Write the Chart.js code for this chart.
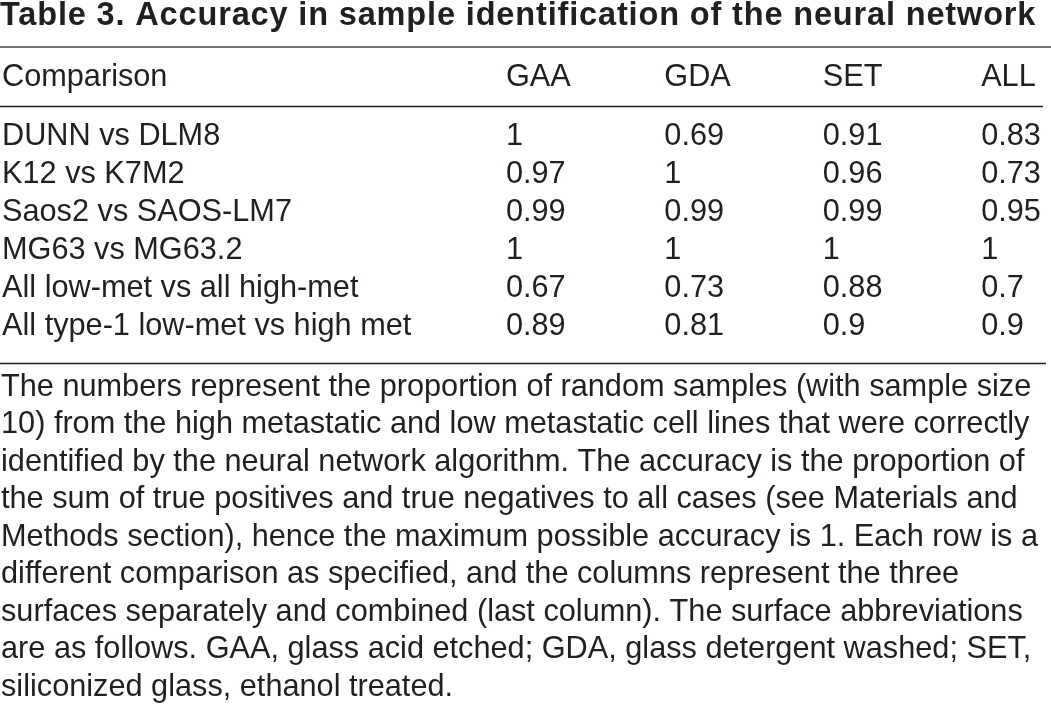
<!DOCTYPE html>
<html>
<head>
<meta charset="utf-8">
<title>Table 3</title>
<script src="https://cdn.jsdelivr.net/npm/chart.js@4.4.1/dist/chart.umd.min.js"></script>
<style>
    html, body { margin: 0; padding: 0; background: #fff; }
    #wrap { width: 1051px; height: 721px; }
</style>
</head>
<body>
<div id="wrap"><canvas id="accuracyTable" width="1051" height="721"></canvas></div>
<script>
// Isi tabel
const titleText = 'Table 3. Accuracy in sample identification of the neural network';
const headerLabel = 'Comparison';
const columns = ['GAA', 'GDA', 'SET', 'ALL'];
const comparisons = [
    'DUNN vs DLM8',
    'K12 vs K7M2',
    'Saos2 vs SAOS-LM7',
    'MG63 vs MG63.2',
    'All low-met vs all high-met',
    'All type-1 low-met vs high met'
];
const gaa = [1, 0.97, 0.99, 1, 0.67, 0.89];
const gda = [0.69, 1, 0.99, 1, 0.73, 0.81];
const set = [0.91, 0.96, 0.99, 1, 0.88, 0.9];
const all = [0.83, 0.73, 0.95, 1, 0.7, 0.9];
const captionLines = [
    'The numbers represent the proportion of random samples (with sample size',
    '10) from the high metastatic and low metastatic cell lines that were correctly',
    'identified by the neural network algorithm. The accuracy is the proportion of',
    'the sum of true positives and true negatives to all cases (see Materials and',
    'Methods section), hence the maximum possible accuracy is 1. Each row is a',
    'different comparison as specified, and the columns represent the three',
    'surfaces separately and combined (last column). The surface abbreviations',
    'are as follows. GAA, glass acid etched; GDA, glass detergent washed; SET,',
    'siliconized glass, ethanol treated.'
];

const INK = '#231f20';
const FONT = '"Liberation Sans", Arial, Helvetica, sans-serif';
const BODY_FONT = '30.7px ' + FONT;
const CAPTION_GAP = 19;       // jarak dari bawah area tabel ke baris caption pertama
const CAPTION_LINE = 37.5;

// posisi baris pada sumbu y: header = 0, data mulai 1.54
const HEADER_ROW = 0;
const FIRST_ROW = 1.54;
const rules = [
    { at: -0.81, color: '#737476', width: 2, trim: 0 },
    { at: 0.75, color: INK, width: 1.5, trim: 8 },
    { at: 7.5, color: INK, width: 1.5, trim: 5 }
];

const toPoints = (values, col) => values.map((v, i) => ({ x: col, y: FIRST_ROW + i, v }));

/**
 * Plugin kecil untuk menulis teks sel, garis tabel dan caption
 */
const tableText = {
    id: 'tableText',
    beforeDraw(chart) {
        // judul di referensi sedikit lebih lebar dari Liberation Sans Bold
        chart.ctx.letterSpacing = '0.85px';
    },
    beforeDatasetsDraw(chart) {
        chart.ctx.letterSpacing = '0px';
    },
    afterDatasetsDraw(chart) {
        const { ctx, chartArea, scales: { x, y } } = chart;
        ctx.save();

        rules.forEach(r => {
            const py = Math.round(y.getPixelForValue(r.at)) + (r.width % 2 ? 0.5 : 0);
            ctx.strokeStyle = r.color;
            ctx.lineWidth = r.width;
            ctx.beginPath();
            ctx.moveTo(chartArea.left, py);
            ctx.lineTo(chartArea.right - r.trim, py);
            ctx.stroke();
        });

        ctx.fillStyle = INK;
        ctx.font = BODY_FONT;
        ctx.textAlign = 'left';
        ctx.textBaseline = 'middle';

        const hy = y.getPixelForValue(HEADER_ROW);
        ctx.fillText(headerLabel, chartArea.left + 2, hy);
        columns.forEach((c, i) => ctx.fillText(c, x.getPixelForValue(i + 1), hy));

        comparisons.forEach((c, i) => {
            ctx.fillText(c, chartArea.left + 2, y.getPixelForValue(FIRST_ROW + i));
        });

        chart.data.datasets.forEach((ds, di) => {
            chart.getDatasetMeta(di).data.forEach((pt, i) => {
                ctx.fillText(String(ds.data[i].v), pt.x, pt.y);
            });
        });

        // caption di bawah tabel
        captionLines.forEach((line, i) => {
            ctx.fillText(line, chartArea.left + 1, chartArea.bottom + CAPTION_GAP + i * CAPTION_LINE);
        });
        ctx.restore();
    }
};

Chart.defaults.font.family = FONT;
Chart.defaults.color = INK;

new Chart(document.getElementById('accuracyTable'), {
    type: 'scatter',
    data: {
        datasets: [
            { label: 'GAA', data: toPoints(gaa, 1) },
            { label: 'GDA', data: toPoints(gda, 2) },
            { label: 'SET', data: toPoints(set, 3) },
            { label: 'ALL', data: toPoints(all, 4) }
        ]
    },
    options: {
        responsive: false,
        animation: false,
        devicePixelRatio: 1,
        events: [],
        layout: { padding: { top: 0, left: 0, right: 0, bottom: 352.5 } },
        elements: { point: { radius: 0, hoverRadius: 0 } },
        plugins: {
            legend: { display: false },
            tooltip: { enabled: false },
            title: {
                display: true,
                text: titleText,
                align: 'start',
                color: INK,
                font: { size: 32.5, weight: 'bold', lineHeight: 1 },
                padding: { top: 0, bottom: 7.5 }
            }
        },
        scales: {
            x: { type: 'linear', display: false, min: -2.194, max: 4.441 },
            y: { type: 'linear', display: false, reverse: true, min: -1.0, max: 7.645 }
        }
    },
    plugins: [tableText]
});
</script>
</body>
</html>
